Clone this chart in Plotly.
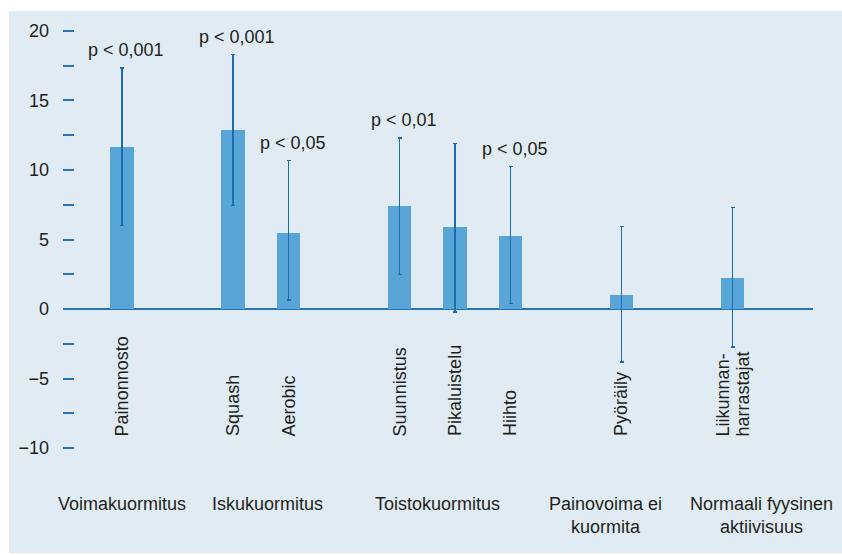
import plotly.graph_objects as go

# ---------------- data ----------------
groups = ["Voimakuormitus", "Iskukuormitus", "Toistokuormitus",
          "Painovoima ei<br>kuormita", "Normaali fyysinen<br>aktiivisuus"]
group_sizes = [1, 2, 3, 1, 1]
categories = ["Painonnosto", "Squash", "Aerobic", "Suunnistus", "Pikaluistelu",
              "Hiihto", "Pyöräily", "Liikunnan-<br>harrastajat"]
values = [11.65, 12.9, 5.47, 7.4, 5.9, 5.25, 1.0, 2.23]
ci_upper = [17.35, 18.3, 10.67, 12.3, 11.9, 10.24, 5.92, 7.29]
ci_lower = [6.02, 7.43, 0.65, 2.5, -0.22, 0.41, -3.8, -2.71]
p_labels = ["p < 0,001", "p < 0,001", "p < 0,05", "p < 0,01", "", "p < 0,05", "", ""]
y_tickvals = [-10, -5, 0, 5, 10, 15, 20]
y_ticktext = ["−10", "−5", "0", "5", "10", "15", "20"]

# ---------------- layout constants ----------------
W, H = 842, 555
ML, MR, MT = 63, 29, 17
Y_RANGE = [-11.5, 21.0]
PX_PER_UNIT = 13.9
PLOT_H = (Y_RANGE[1] - Y_RANGE[0]) * PX_PER_UNIT
MB = H - MT - PLOT_H
PLOT_W = W - ML - MR
FONT = "Liberation Sans, Arial, sans-serif"
TXT = "#231f20"
BAR = "#58a6d7"
ERR = "#1d6cb1"
AXIS = "#2a74b5"
PANEL = "#e0ebf3"

# bar slot positions: one empty slot between groups
x_pos = []
slot = 0
group_centers = []
for size in group_sizes:
    members = list(range(slot, slot + size))
    x_pos.extend(members)
    group_centers.append(sum(members) / size)
    slot += size + 1

X_RANGE = [-1.063, 12.45]

err_plus = [u - v for u, v in zip(ci_upper, values)]
err_minus = [v - l for v, l in zip(values, ci_lower)]


def px_to_paper_x(px):
    return (px - ML) / PLOT_W


def px_to_paper_y(py):
    return (MT + PLOT_H - py) / PLOT_H


fig = go.Figure()
fig.add_trace(go.Bar(
    x=x_pos, y=values, width=0.42,
    marker=dict(color=BAR, line=dict(width=0)),
    error_y=dict(type="data", symmetric=False, array=err_plus, arrayminus=err_minus,
                 color=ERR, thickness=1.5, width=2),
    hoverinfo="skip", showlegend=False,
))

annotations = []
# p-value labels
for x, top, p in zip(x_pos, ci_upper, p_labels):
    if p:
        annotations.append(dict(x=x, y=top, xref="x", yref="y", text=p, showarrow=False,
                                xanchor="center", yanchor="middle", yshift=18, xshift=4,
                                font=dict(family=FONT, size=18, color=TXT)))
# rotated category labels (bottom aligned)
for x, cat in zip(x_pos, categories):
    lines = cat.split("<br>")
    n = len(lines)
    for i, ln in enumerate(lines):
        annotations.append(dict(x=x, y=-9.3, xref="x", yref="y", text=ln, showarrow=False,
                                textangle=-90, xanchor="center", yanchor="bottom",
                                xshift=(i - (n - 1) / 2) * 20,
                                font=dict(family=FONT, size=18, color=TXT)))
# group labels
group_offsets = [0.0, 0.12, -0.32, -0.28, 0.53]
for gc, off, g in zip(group_centers, group_offsets, groups):
    annotations.append(dict(x=gc + off, y=px_to_paper_y(492), xref="x", yref="paper",
                            text=g, showarrow=False, xanchor="center", yanchor="top",
                            align="center",
                            font=dict(family=FONT, size=18, color=TXT)))

shapes = [dict(type="rect", xref="paper", yref="paper",
               x0=px_to_paper_x(9), x1=px_to_paper_x(860),
               y0=px_to_paper_y(553), y1=px_to_paper_y(11),
               fillcolor=PANEL, line=dict(width=0), layer="below")]

fig.update_layout(
    width=W, height=H,
    margin=dict(l=ML, r=MR, t=MT, b=MB, pad=0),
    paper_bgcolor="white", plot_bgcolor="rgba(0,0,0,0)",
    font=dict(family=FONT, size=18, color=TXT),
    annotations=annotations, shapes=shapes,
    bargap=0,
    xaxis=dict(range=X_RANGE, showgrid=False, zeroline=False, showline=False,
               showticklabels=False, ticks="", fixedrange=True),
    yaxis=dict(range=Y_RANGE, showgrid=False, showline=False,
               zeroline=True, zerolinecolor=AXIS, zerolinewidth=2,
               tickmode="array", tickvals=y_tickvals, ticktext=y_ticktext,
               ticks="inside", ticklen=11, tickwidth=2, tickcolor=AXIS,
               ticklabelstandoff=13,
               tickfont=dict(family=FONT, size=18, color=TXT),
               minor=dict(dtick=2.5, tick0=0, ticks="inside", ticklen=11, tickwidth=2,
                          tickcolor=AXIS, showgrid=False),
               fixedrange=True),
)

fig.write_html("out.html", config={"displayModeBar": False},
               post_script="document.body.style.margin='0px';document.body.style.overflow='hidden';")
